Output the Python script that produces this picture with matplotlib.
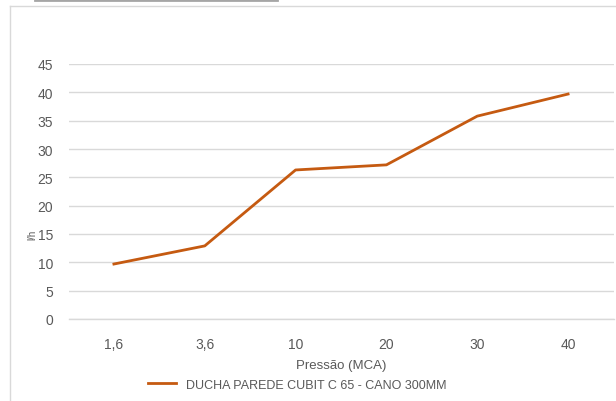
import matplotlib.pyplot as plt

pressao = ["1,6", "3,6", "10", "20", "30", "40"]
vazao = [9.7, 12.9, 26.3, 27.2, 35.8, 39.7]
serie = "DUCHA PAREDE CUBIT C 65 - CANO 300MM"

plt.rcParams['font.family'] = ['Liberation Sans Narrow', 'Liberation Sans', 'DejaVu Sans']

fig = plt.figure(figsize=(6.16, 4.02), dpi=100)
ax = fig.add_axes([68.5/616, 82/402, 545/616, 255/402])

x = list(range(len(pressao)))
ax.plot(x, vazao, color='#C55A11', linewidth=2, label=serie, zorder=3)

ax.set_xlim(-0.5, len(pressao) - 0.5)
ax.set_ylim(0, 45)
ax.set_yticks(range(0, 50, 5))
ax.set_xticks(x)
ax.set_xticklabels(pressao)
ax.grid(axis='y', color='#D9D9D9', linewidth=1)
ax.axhline(0, color='#D9D9D9', linewidth=1, clip_on=False)
ax.set_axisbelow(True)
for s in ax.spines.values():
    s.set_visible(False)
ax.tick_params(length=0, colors='#595959', labelsize=10)
ax.tick_params(axis='x', pad=13)
ax.tick_params(axis='y', pad=11)

ax.set_xlabel("Pressão (MCA)", color='#595959', fontsize=9.5, labelpad=6)
fig.text(32/616, 1 - 235/402, "l/h", rotation=90, color='#595959', fontsize=7,
         ha='center', va='center')

ax.legend(loc='upper center', bbox_to_anchor=(0.42, -0.19), frameon=False,
          fontsize=9, labelcolor='#595959', handlelength=2.2)

# borda do gráfico
fig.add_artist(plt.Line2D([10/616, 10/616], [0, 1 - 7/402], color='#D9D9D9', lw=1))
fig.add_artist(plt.Line2D([10/616, 1], [1 - 7/402, 1 - 7/402], color='#D9D9D9', lw=1))
fig.add_artist(plt.Line2D([35/616, 277/616], [0.998, 0.998], color='#A6A6A6', lw=2))

fig.savefig("out.png", dpi=100)
